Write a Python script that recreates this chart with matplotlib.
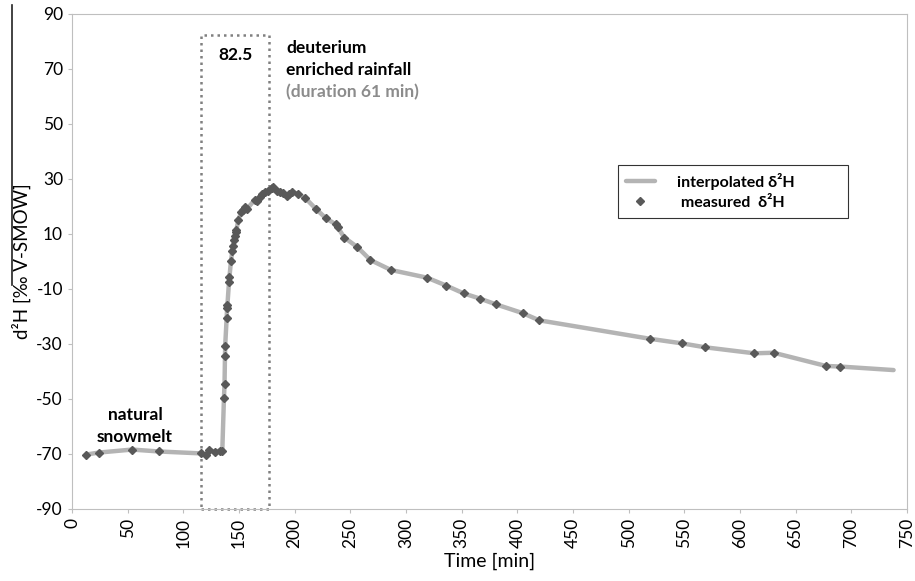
"""Deuterium tracer breakthrough: measured and interpolated d2H over time."""

import matplotlib

matplotlib.use("Agg")

import matplotlib.pyplot as plt
import numpy as np
from matplotlib.lines import Line2D
from matplotlib.patches import Rectangle

# measured samples, time [min] and d2H [permil V-SMOW]
time_min = [
    13, 24, 54, 78, 116, 120.6, 123.5, 128, 132.6, 135,
    136.5, 137, 137.4, 137.6, 138.9, 139.3, 139.6, 141, 141.4, 142.8,
    144, 144.6, 145.5, 146.1, 147, 147.6, 149.4, 152.1, 153.6, 155.7,
    157.2, 164.1, 166.2, 168.6, 170.7, 173.1, 176.1, 179.2, 180.6, 183.7,
    186.7, 189.6, 192.7, 195, 197.5, 203.2, 209.2, 219.1, 228.1, 236.9,
    238.7, 244.6, 256.4, 268.1, 286.5, 318.9, 336.3, 351.7, 366.4, 380.8,
    404.9, 419.6, 518.8, 548.2, 568.4, 612.9, 630.3, 677.2, 689.5,
]
d2h_measured = [
    -70.2, -69.5, -68.4, -69.1, -69.8, -70.4, -68.5, -69.2, -68.8, -68.8,
    -49.5, -44.7, -34.5, -30.6, -20.7, -16.8, -15.8, -7.6, -5.8, 0.2,
    3.8, 5.7, 7.8, 9.3, 10.6, 11.3, 15.1, 18.1, 18.7, 19.7,
    19.1, 22.4, 22.0, 23.6, 24.5, 25.3, 25.7, 26.6, 27.0, 25.7,
    25.4, 24.8, 23.8, 24.5, 25.4, 24.5, 23.2, 19.1, 15.7, 13.5,
    12.4, 8.7, 5.2, 0.5, -3.1, -5.9, -8.8, -11.6, -13.5, -15.6,
    -18.8, -21.4, -28.1, -29.8, -31.2, -33.4, -33.2, -38.0, -38.2,
]
# interpolated curve continues past the last sample
tail_time = [738]
tail_d2h = [-39.5]

rain_start = 116
rain_end = 177
rain_d2h = 82.5

x_ticks = np.arange(0, 751, 50)
y_ticks = np.arange(-90, 91, 20)

plt.rcParams["font.family"] = ["Lato", "DejaVu Sans"]
plt.rcParams["axes.unicode_minus"] = False

fig = plt.figure(figsize=(9.15, 5.81), dpi=100)
ax = fig.add_axes([0.0787, 0.124, 0.9125, 0.852])

interp_x = list(time_min) + tail_time
interp_y = list(d2h_measured) + tail_d2h
ax.plot(interp_x, interp_y, color="#b4b4b4", lw=3.2, solid_capstyle="round",
        label="interpolated δ²H", zorder=2)
ax.plot(time_min, d2h_measured, ls="none", marker="D", ms=4.5, color="#595959",
        label=" measured  δ²H", zorder=3)

# rainfall window
ax.add_patch(Rectangle((rain_start, -90), rain_end - rain_start, rain_d2h + 90,
                       fill=False, ls=(0, (1, 1.6)), lw=1.8, ec="#808080",
                       zorder=1, clip_on=False))
note = dict(fontsize=12.5, fontweight="bold", va="center")
ax.text((rain_start + rain_end) / 2, 75, f"{rain_d2h}", ha="center", **note)
ax.text(192.5, 77.6, "deuterium", ha="left", **note)
ax.text(192.5, 69.6, "enriched rainfall", ha="left", **note)
ax.text(192.5, 61.6, "(duration 61 min)", ha="left", color="#8c8c8c", **note)
ax.text(56.5, -55.8, "natural", ha="center", **note)
ax.text(56.5, -63.7, "snowmelt", ha="center", **note)

ax.set_xlim(0, 750)
ax.set_ylim(-90, 90)
ax.set_xticks(x_ticks)
ax.set_yticks(y_ticks)
ax.tick_params(axis="x", labelrotation=90)
ax.tick_params(length=3, color="#bfbfbf", labelsize=12.5)
for s in ax.spines.values():
    s.set_color("#bfbfbf")
ax.set_xlabel("Time [min]", fontsize=14, labelpad=3)
ax.set_ylabel("d²H [‰ V-SMOW]", fontsize=13.5)
ax.yaxis.set_label_coords(-0.049, 0.5)

leg = ax.legend(loc="upper left", bbox_to_anchor=(0.654, 0.595, 0.275, 0.1),
                mode="expand", borderaxespad=0, frameon=True, fancybox=False,
                edgecolor="black", handlelength=1.8, handletextpad=1.4,
                prop={"weight": "bold", "size": 11.5}, borderpad=0.5,
                labelspacing=0.35)
leg.get_frame().set_linewidth(0.8)

# stray rule at the left edge of the original
fig.add_artist(Line2D([12 / 915, 12 / 915], [1 - 5 / 581, 1 - 285 / 581],
                      color="#222222", lw=1.2))

fig.savefig("out.png", dpi=100)
plt.close(fig)
